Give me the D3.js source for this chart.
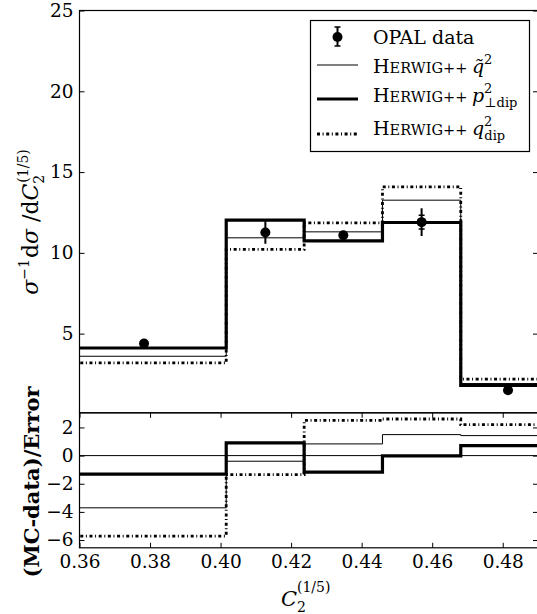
<!DOCTYPE html>
<html><head><meta charset="utf-8">
<script src="https://cdn.jsdelivr.net/npm/d3@7"></script>
<style>body{margin:0;background:#fff}svg{display:block}</style>
</head><body><svg id="c" width="537" height="614"></svg>
<script>
// bin edges of the histograms
const binEdges = [0.355, 0.4016, 0.4237, 0.4459, 0.4681, 0.4949];
// OPAL data
const dataX = [0.3783, 0.4127, 0.4348, 0.4570, 0.4815];
const dataY = [4.39, 11.26, 11.09, 11.90, 1.50];
const dataErr = [0.18, 0.70, 0.20, 0.86, 0.15];
const dataErrInner = [0, 0, 0, 0.42, 0];
// MC histograms
const qtilde = [3.60, 10.93, 11.30, 13.26, 1.91];
const pTdip = [4.11, 12.02, 10.74, 11.88, 1.80];
const qdip = [3.19, 10.21, 11.85, 14.08, 2.18];
// (MC-data)/Error
const rQtilde = [-3.71, -0.40, 0.83, 1.49, 1.42];
const rPTdip = [-1.32, 0.90, -1.18, -0.02, 0.71];
const rQdip = [-5.72, -1.35, 2.50, 2.60, 2.20];
// ticks
const xTicks = [0.36, 0.38, 0.40, 0.42, 0.44, 0.46, 0.48];
const yTicksMain = [5, 10, 15, 20, 25];
const yTicksRatio = [2, 0, -2, -4, -6];

const FONT = "'DejaVu Serif',serif";
const svg = d3.select("#c").attr("font-family", FONT);
const L = 79.5, R = 538, T1 = 10.5, B1 = 412.8, T2 = 412.8, B2 = 547.8;
const x = d3.scaleLinear().domain([0.36, 0.49]).range([L, R]);
const y1 = d3.scaleLinear().domain([0.1, 25]).range([B1, T1]);
const y2 = d3.scaleLinear().domain([-6.55, 3.04]).range([B2, T2]);

const defs = svg.append("defs");
defs.append("clipPath").attr("id","cp1").append("rect").attr("x",L).attr("y",T1).attr("width",R-L).attr("height",B1-T1);
defs.append("clipPath").attr("id","cp2").append("rect").attr("x",L).attr("y",T2).attr("width",R-L).attr("height",B2-T2);

const styles = {
  thin: {w:1, dash:null},
  thick: {w:3.2, dash:null},
  dd: {w:2.8, dash:"3,2.6,1,2.6"}
};
function stepPath(vals, ys){
  const pts = vals.map((v,i)=>[binEdges[i], v]);
  pts.push([binEdges[binEdges.length-1], vals[vals.length-1]]);
  return d3.line().x(d=>x(d[0])).y(d=>ys(d[1])).curve(d3.curveStepAfter)(pts);
}
function drawHist(g, vals, ys, st){
  g.append("path").attr("d", stepPath(vals, ys)).attr("fill","none").attr("stroke","#000")
    .attr("stroke-width", st.w).attr("stroke-dasharray", st.dash).attr("stroke-linejoin","miter").attr("stroke-linecap","butt");
}

// main panel
const g1 = svg.append("g").attr("clip-path","url(#cp1)");
drawHist(g1, qtilde, y1, styles.thin);
drawHist(g1, qdip, y1, styles.dd);
drawHist(g1, pTdip, y1, styles.thick);
dataX.forEach((xv,i)=>{
  g1.append("line").attr("x1",x(xv)).attr("x2",x(xv)).attr("y1",y1(dataY[i]-dataErr[i])).attr("y2",y1(dataY[i]+dataErr[i]))
    .attr("stroke","#000").attr("stroke-width",2);
  if (dataErrInner[i]>0){
    [dataY[i]-dataErrInner[i], dataY[i]+dataErrInner[i]].forEach(v=>{
      g1.append("line").attr("x1",x(xv)-3).attr("x2",x(xv)+3).attr("y1",y1(v)).attr("y2",y1(v)).attr("stroke","#000").attr("stroke-width",1.5);
    });
  }
  g1.append("circle").attr("cx",x(xv)).attr("cy",y1(dataY[i])).attr("r",5).attr("fill","#000");
});

// ratio panel
const g2 = svg.append("g").attr("clip-path","url(#cp2)");
g2.append("line").attr("x1",L).attr("x2",R).attr("y1",y2(0)).attr("y2",y2(0)).attr("stroke","#000").attr("stroke-width",1);
drawHist(g2, rQtilde, y2, styles.thin);
drawHist(g2, rQdip, y2, styles.dd);
drawHist(g2, rPTdip, y2, styles.thick);

// axes
function styleAxis(sel){ sel.attr("font-family", FONT).attr("font-size",18.5); sel.select(".domain").remove();
  sel.selectAll(".tick line").attr("stroke","#000").attr("stroke-width",1);
  sel.selectAll(".tick text").attr("fill","#000"); }
svg.append("g").attr("transform",`translate(${L},0)`).call(d3.axisLeft(y1).tickValues(yTicksMain).tickSize(-5).tickPadding(6).tickFormat(d3.format("d"))).call(styleAxis);
svg.append("g").attr("transform",`translate(${R},0)`).call(d3.axisRight(y1).tickValues(yTicksMain).tickSize(-5).tickFormat("")).call(styleAxis);
svg.append("g").attr("transform",`translate(${L},0)`).call(d3.axisLeft(y2).tickValues(yTicksRatio).tickSize(-5).tickPadding(6).tickFormat(d3.format("d"))).call(styleAxis);
svg.append("g").attr("transform",`translate(${R},0)`).call(d3.axisRight(y2).tickValues(yTicksRatio).tickSize(-5).tickFormat("")).call(styleAxis);
svg.append("g").attr("transform",`translate(0,${B2})`).call(d3.axisBottom(x).tickValues(xTicks).tickSize(-5).tickPadding(7).tickFormat(d3.format(".2f"))).call(styleAxis);
svg.append("g").attr("transform",`translate(0,${T2})`).call(d3.axisTop(x).tickValues(xTicks).tickSize(-5).tickFormat("")).call(styleAxis);

// frames
svg.append("rect").attr("x",L).attr("y",T1).attr("width",R-L).attr("height",B1-T1).attr("fill","none").attr("stroke","#000").attr("stroke-width",1.2);
svg.append("rect").attr("x",L).attr("y",T2).attr("width",R-L).attr("height",B2-T2).attr("fill","none").attr("stroke","#000").attr("stroke-width",1.2);

// y label main
const yl = svg.append("text").attr("transform","translate(38,222) rotate(-90)").attr("text-anchor","middle").attr("font-size",22);
yl.append("tspan").attr("font-style","italic").text("σ");
yl.append("tspan").attr("font-size",14).attr("dy",-9).text("−1");
yl.append("tspan").attr("dy",9).attr("dx",1).text("d");
yl.append("tspan").attr("font-style","italic").text("σ");
yl.append("tspan").text(" /d");
yl.append("tspan").attr("font-style","italic").text("C");
yl.append("tspan").attr("font-size",14).attr("dy",6).text("2");
yl.append("tspan").attr("font-size",14).attr("dx",-8).attr("dy",-16).text("(1/5)");

// y label ratio
svg.append("text").attr("transform","translate(39,482) rotate(-90)").attr("text-anchor","middle")
  .attr("font-size",21).attr("font-weight","bold").text("(MC-data)/Error");

// x label
svg.append("text").attr("x",281).attr("y",606).attr("font-size",21).attr("font-style","italic").text("C");
svg.append("text").attr("x",297).attr("y",612).attr("font-size",14).text("2");
svg.append("text").attr("x",297).attr("y",592).attr("font-size",14).text("(1/5)");

// legend
const lg = svg.append("g");
lg.append("rect").attr("x",310.5).attr("y",20.5).attr("width",219).attr("height",131).attr("fill","#fff").attr("stroke","#000").attr("stroke-width",1.2);
const lx0 = 317, lx1 = 358, tx = 373;
const lineRows = [37, 65, 99, 134];
const textRows = [43.5, 73, 102, 135];
lg.append("line").attr("x1",337.5).attr("x2",337.5).attr("y1",lineRows[0]-10).attr("y2",lineRows[0]+9).attr("stroke","#000").attr("stroke-width",2);
lg.append("line").attr("x1",334.5).attr("x2",340.5).attr("y1",lineRows[0]-10).attr("y2",lineRows[0]-10).attr("stroke","#000").attr("stroke-width",1.5);
lg.append("line").attr("x1",334.5).attr("x2",340.5).attr("y1",lineRows[0]+9).attr("y2",lineRows[0]+9).attr("stroke","#000").attr("stroke-width",1.5);
lg.append("circle").attr("cx",337.5).attr("cy",lineRows[0]).attr("r",5).attr("fill","#000");
lg.append("text").attr("x",tx).attr("y",textRows[0]).attr("font-size",19).text("OPAL data");
const lstyles = [styles.thin, styles.thick, styles.dd];
lstyles.forEach((st,i)=>{
  const yy = lineRows[i+1];
  lg.append("line").attr("x1",lx0).attr("x2",lx1).attr("y1",yy).attr("y2",yy).attr("stroke","#000").attr("stroke-width",st.w).attr("stroke-dasharray",st.dash);
});
function herwig(yy){
  const t = lg.append("text").attr("x",tx).attr("y",yy).attr("font-size",19);
  t.append("tspan").text("H");
  t.append("tspan").attr("font-size",14.5).text("ERWIG++ ");
  return t;
}
let t1 = herwig(textRows[1]);
t1.append("tspan").attr("font-style","italic").text("q\u0303");
t1.append("tspan").attr("font-size",13).attr("dy",-9).text("2");
let t2 = herwig(textRows[2]);
t2.append("tspan").attr("font-style","italic").text("p");
t2.append("tspan").attr("font-size",13).attr("dy",-9).text("2");
t2.append("tspan").attr("font-size",13).attr("dx",-8).attr("dy",14).text("⊥dip");
let t3 = herwig(textRows[3]);
t3.append("tspan").attr("font-style","italic").text("q");
t3.append("tspan").attr("font-size",13).attr("dy",-9).text("2");
t3.append("tspan").attr("font-size",13).attr("dx",-8).attr("dy",14).text("dip");
</script></body></html>
